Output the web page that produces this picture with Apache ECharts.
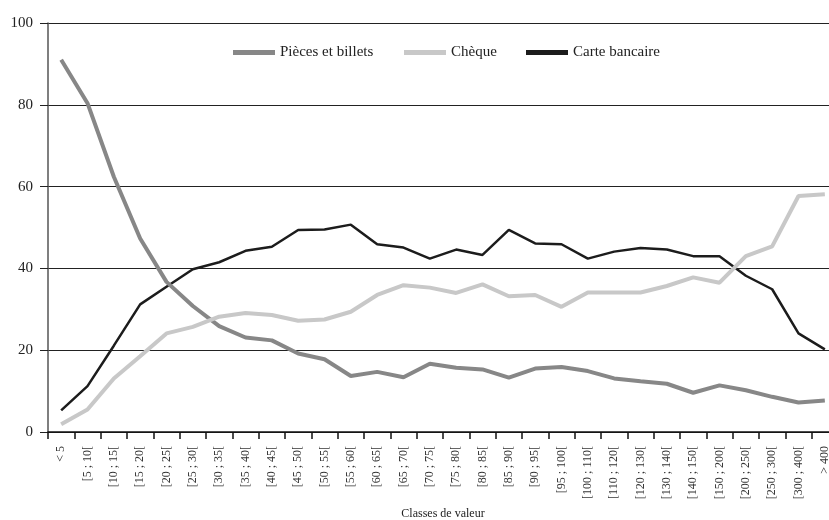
<!DOCTYPE html>
<html><head><meta charset="utf-8">
<script src="https://cdn.jsdelivr.net/npm/echarts@6/dist/echarts.min.js"></script>
<style>html,body{margin:0;padding:0;background:#fff}#c{width:829px;height:520px}</style>
</head><body><div id="c"></div>
<script>
const categories = ["< 5","[5 ; 10[","[10 ; 15[","[15 ; 20[","[20 ; 25[","[25 ; 30[","[30 ; 35[","[35 ; 40[","[40 ; 45[","[45 ; 50[","[50 ; 55[","[55 ; 60[","[60 ; 65[","[65 ; 70[","[70 ; 75[","[75 ; 80[","[80 ; 85[","[85 ; 90[","[90 ; 95[","[95 ; 100[","[100 ; 110[","[110 ; 120[","[120 ; 130[","[130 ; 140[","[140 ; 150[","[150 ; 200[","[200 ; 250[","[250 ; 300[","[300 ; 400[","> 400"];
const pieces = [91.0,80.4,62.4,47.3,36.7,30.8,25.9,23.1,22.4,19.2,17.8,13.7,14.7,13.4,16.7,15.7,15.3,13.3,15.5,15.9,14.9,13.1,12.4,11.8,9.6,11.4,10.2,8.6,7.2,7.7];
const cheque = [1.9,5.5,13.1,18.5,24.1,25.7,28.2,29.1,28.6,27.2,27.5,29.4,33.5,35.9,35.3,34.0,36.1,33.2,33.5,30.6,34.1,34.1,34.1,35.7,37.8,36.5,43.0,45.4,57.7,58.1];
const carte = [5.3,11.2,21.1,31.2,35.5,39.8,41.5,44.3,45.3,49.4,49.5,50.7,45.9,45.1,42.4,44.6,43.3,49.4,46.1,45.9,42.4,44.1,45.0,44.6,43.0,43.0,38.2,34.9,24.1,20.2];
const seriesNames = ["Pièces et billets","Chèque","Carte bancaire"];
const yTicks = {min:0,max:100,interval:20};
const xName = "Classes de valeur";

const font = "'Liberation Serif', 'DejaVu Serif', serif";
const legendText = {fontFamily:font, fontSize:15, color:'#222'};
const legendLefts = [228, 399, 521];
const chart = echarts.init(document.getElementById('c'), null, {renderer:'canvas'});
chart.setOption({
  animation:false,
  backgroundColor:'#fff',
  textStyle:{fontFamily:font},
  grid:{left:48, top:23, width:790, bottom:88, outerBoundsMode:'none', containLabel:false},
  legend: seriesNames.map((n,i)=>({
    data:[n], left:legendLefts[i], top:40, icon:'rect', itemWidth:42, itemHeight:5,
    textStyle:legendText
  })),
  xAxis:{
    type:'category', data:categories, boundaryGap:true,
    name:xName, nameLocation:'middle', nameGap:76,
    nameTextStyle:{fontFamily:font, fontSize:12, color:'#222'},
    axisLine:{lineStyle:{color:'#111', width:1.5}},
    axisTick:{show:true, length:7, lineStyle:{color:'#111', width:1.5}},
    axisLabel:{rotate:90, interval:0, fontFamily:font, fontSize:12, color:'#333', margin:14}
  },
  yAxis:{
    type:'value', min:yTicks.min, max:yTicks.max, interval:yTicks.interval,
    axisLine:{show:true, lineStyle:{color:'#555', width:1.5}},
    axisTick:{show:true, length:8, lineStyle:{color:'#222'}},
    axisLabel:{fontFamily:font, fontSize:15, color:'#222', margin:15, padding:[0,0,9,0]},
    splitLine:{lineStyle:{color:'#222', width:1}}
  },
  series:[
    {name:seriesNames[0], type:'line', data:pieces, symbol:'none', z:3,
     lineStyle:{color:'#878787', width:4}, itemStyle:{color:'#878787'}},
    {name:seriesNames[1], type:'line', data:cheque, symbol:'none', z:4,
     lineStyle:{color:'#c8c8c8', width:4}, itemStyle:{color:'#c8c8c8'}},
    {name:seriesNames[2], type:'line', data:carte, symbol:'none', z:2,
     lineStyle:{color:'#1c1c1c', width:2.5}, itemStyle:{color:'#1c1c1c'}}
  ]
});
</script></body></html>
